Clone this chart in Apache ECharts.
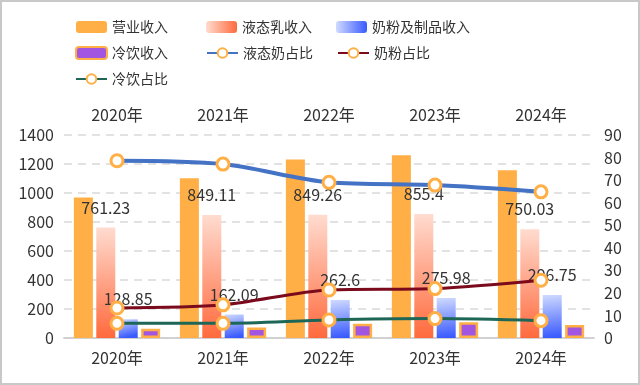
<!DOCTYPE html>
<html><head><meta charset="utf-8">
<script src="https://cdn.jsdelivr.net/npm/echarts@6/dist/echarts.min.js"></script>
<style>
html,body{margin:0;padding:0;background:#fff;}
#c{width:640px;height:385px;box-sizing:border-box;border:2px solid #c8c8c8;}
</style></head><body>
<div id="c"></div>
<script>
var categories = ['2020年','2021年','2022年','2023年','2024年'];
var revenue = [969, 1101, 1231, 1261, 1157];
var liquidMilk = [761.23, 849.11, 849.26, 855.4, 750.03];
var milkPowder = [128.85, 162.09, 262.6, 275.98, 296.75];
var coldDrink = [63, 72, 98, 108, 89];
var liquidShare = [78.6, 77.1, 69.0, 67.8, 64.8];
var powderShare = [13.3, 14.7, 21.3, 21.9, 25.6];
var coldShare = [6.5, 6.5, 8.0, 8.6, 7.7];
var leftTicks = {min: 0, max: 1400, interval: 200};
var rightTicks = {min: 0, max: 90, interval: 10};

var chart = echarts.init(document.getElementById('c'), null, {renderer: 'canvas'});
var FONT = '"Noto Sans CJK SC", "Noto Sans", sans-serif';
var ORANGE = '#FFAF45';
function vgrad(a, b){ return new echarts.graphic.LinearGradient(0,0,0.25,1,[{offset:0,color:a},{offset:1,color:b}]); }
function hgrad(a, b){ return new echarts.graphic.LinearGradient(0,0,1,0,[{offset:0,color:a},{offset:1,color:b}]); }
var labelStyle = {show: true, position: 'top', distance: 12, fontSize: 16, color: '#333', fontFamily: FONT};
var marker = {color: '#fff', borderColor: ORANGE, borderWidth: 3};
function plain(v){ return String(v); }

chart.setOption({
  animation: false,
  textStyle: {fontFamily: FONT},
  legend: {
    left: 68, top: 12, width: 400, itemWidth: 31, itemHeight: 12, itemGap: 10,
    textStyle: {fontSize: 14, color: '#333', width: 84, lineHeight: 16, fontFamily: FONT},
    data: [
      {name: '营业收入'},
      {name: '液态乳收入', itemStyle: {color: hgrad('#FFDCD0', '#FF6A3D')}},
      {name: '奶粉及制品收入', itemStyle: {color: hgrad('#D0DAFF', '#3A5BFF')}},
      {name: '冷饮收入'},
      {name: '液态奶占比'},
      {name: '奶粉占比'},
      {name: '冷饮占比'}
    ]
  },
  grid: {left: 62, right: 44, top: 133, bottom: 45},
  xAxis: [
    {type: 'category', data: categories, position: 'bottom',
     axisLine: {lineStyle: {color: '#d0d0d0', width: 1.5}}, axisTick: {lineStyle: {color: '#d0d0d0'}, length: 6},
     axisLabel: {fontSize: 16, color: '#333', margin: 12, fontFamily: FONT}},
    {type: 'category', data: categories, position: 'top',
     axisLine: {lineStyle: {color: '#d0d0d0', width: 1.5}}, axisTick: {lineStyle: {color: '#d0d0d0'}, length: 6},
     axisLabel: {fontSize: 16, color: '#333', margin: 12, fontFamily: FONT}}
  ],
  yAxis: [
    {type: 'value', min: leftTicks.min, max: leftTicks.max, interval: leftTicks.interval,
     axisLine: {show: false}, axisTick: {show: false},
     axisLabel: {fontSize: 16, color: '#333', margin: 10, fontFamily: FONT, formatter: plain},
     splitLine: {lineStyle: {color: '#d9d9d9', type: [8, 6], width: 1.5}}},
    {type: 'value', min: rightTicks.min, max: rightTicks.max, interval: rightTicks.interval,
     axisLine: {show: false}, axisTick: {show: false},
     axisLabel: {fontSize: 16, color: '#333', margin: 10, fontFamily: FONT, formatter: plain},
     splitLine: {show: false}}
  ],
  series: [
    {name: '营业收入', type: 'bar', data: revenue, barWidth: 19, barGap: '18%',
     itemStyle: {color: ORANGE}},
    {name: '液态乳收入', type: 'bar', data: liquidMilk, barWidth: 19,
     itemStyle: {color: vgrad('#FFDCD0', '#FF6A3D')}, label: labelStyle},
    {name: '奶粉及制品收入', type: 'bar', data: milkPowder, barWidth: 19,
     itemStyle: {color: vgrad('#D0DAFF', '#3A5BFF')}, label: labelStyle},
    {name: '冷饮收入', type: 'bar', data: coldDrink, barWidth: 19,
     itemStyle: {color: '#A155E0', borderColor: ORANGE, borderWidth: 2.5}},
    {name: '液态奶占比', type: 'line', yAxisIndex: 1, data: liquidShare, smooth: 0.3,
     symbol: 'circle', symbolSize: 12, lineStyle: {color: '#4472C4', width: 4},
     itemStyle: marker, color: '#4472C4', z: 5},
    {name: '奶粉占比', type: 'line', yAxisIndex: 1, data: powderShare, smooth: 0.3,
     symbol: 'circle', symbolSize: 12, lineStyle: {color: '#7B0B1C', width: 3},
     itemStyle: marker, color: '#7B0B1C', z: 5},
    {name: '冷饮占比', type: 'line', yAxisIndex: 1, data: coldShare, smooth: 0.3,
     symbol: 'circle', symbolSize: 12, lineStyle: {color: '#1E6656', width: 3},
     itemStyle: marker, color: '#1E6656', z: 5}
  ]
});
</script>
</body></html>
